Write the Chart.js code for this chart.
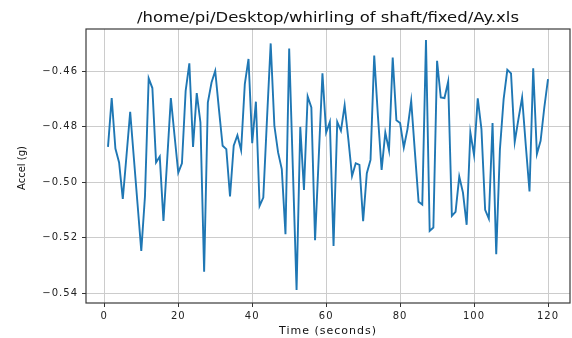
<!DOCTYPE html>
<html>
<head>
<meta charset="utf-8">
<script src="https://cdn.jsdelivr.net/npm/chart.js@4/dist/chart.umd.min.js"></script>
<style>
  html, body { margin: 0; padding: 0; background: #fff; }
  #wrap { width: 572px; height: 338px; }
</style>
</head>
<body>
<div id="wrap"><canvas id="chart" width="572" height="338"></canvas></div>
<script>
// Time axis (seconds) and Ay acceleration readings (g)
const times = [
  1, 2, 3, 4, 5, 6, 7, 8, 9, 10, 11, 12, 13, 14, 15, 16, 17, 18, 19, 20,
  21, 22, 23, 24, 25, 26, 27, 28, 29, 30, 31, 32, 33, 34, 35, 36, 37, 38, 39, 40,
  41, 42, 43, 44, 45, 46, 47, 48, 49, 50, 51, 52, 53, 54, 55, 56, 57, 58, 59, 60,
  61, 62, 63, 64, 65, 66, 67, 68, 69, 70, 71, 72, 73, 74, 75, 76, 77, 78, 79, 80,
  81, 82, 83, 84, 85, 86, 87, 88, 89, 90, 91, 92, 93, 94, 95, 96, 97, 98, 99, 100,
  101, 102, 103, 104, 105, 106, 107, 108, 109, 110, 111, 112, 113, 114, 115, 116, 117, 118, 119, 120
];
const accelY = [
  -0.4872, -0.4696, -0.4878, -0.4928, -0.5060, -0.4904, -0.4746, -0.4913, -0.5080, -0.5247,
  -0.5050, -0.4625, -0.4660, -0.4928, -0.4907, -0.5139, -0.4920, -0.4696, -0.4832, -0.4965,
  -0.4931, -0.4670, -0.4571, -0.4872, -0.4678, -0.4784, -0.5322, -0.4712, -0.4640, -0.4598,
  -0.4736, -0.4868, -0.4880, -0.5051, -0.4868, -0.4830, -0.4884, -0.4646, -0.4555, -0.4859,
  -0.4709, -0.5085, -0.5055, -0.4772, -0.4499, -0.4796, -0.4892, -0.4952, -0.5187, -0.4517,
  -0.4952, -0.5388, -0.4800, -0.5027, -0.4690, -0.4730, -0.5209, -0.4908, -0.4607, -0.4820,
  -0.4782, -0.5229, -0.4782, -0.4814, -0.4722, -0.4844, -0.4977, -0.4931, -0.4937, -0.5140,
  -0.4967, -0.4919, -0.4543, -0.4760, -0.4955, -0.4820, -0.4884, -0.4550, -0.4776, -0.4786,
  -0.4874, -0.4808, -0.4706, -0.4890, -0.5070, -0.5080, -0.4487, -0.5175, -0.5163, -0.4562,
  -0.4694, -0.4696, -0.4637, -0.5121, -0.5106, -0.4979, -0.5037, -0.5153, -0.4820, -0.4902,
  -0.4697, -0.4808, -0.5099, -0.5131, -0.4786, -0.5259, -0.4880, -0.4700, -0.4594, -0.4607,
  -0.4854, -0.4772, -0.4694, -0.4868, -0.5033, -0.4589, -0.4898, -0.4850, -0.4730, -0.4628
];
const xTicks = [0, 20, 40, 60, 80, 100, 120];
const yTicks = [-0.54, -0.52, -0.50, -0.48, -0.46];

const FONT = 'DejaVu Sans';
const TITLE = '/home/pi/Desktop/whirling of shaft/fixed/Ay.xls';
const Y_TITLE = 'Accel (g)';
const points = times.map((t, i) => ({ x: t, y: accelY[i] }));

// the reference text is a bit wide, so space the letters out a little
const spacing = {
  id: 'spacing',
  beforeDraw(chart) { chart.ctx.letterSpacing = '1px'; }
};

// close the plot box (top/right spines), title over the plot, y title by hand
const frame = {
  id: 'frame',
  afterDraw(chart) {
    const { ctx, chartArea: a } = chart;
    ctx.save();
    ctx.strokeStyle = '#3a3a3a';
    ctx.lineWidth = 1.2;
    ctx.strokeRect(a.left, a.top, a.right - a.left, a.bottom - a.top);

    // title: same height as 14px text, stretched to the width seen in the picture
    ctx.fillStyle = '#111';
    ctx.letterSpacing = '0px';
    ctx.font = '14px "' + FONT + '"';
    ctx.textAlign = 'center';
    ctx.textBaseline = 'alphabetic';
    const w = ctx.measureText(TITLE).width;
    ctx.save();
    ctx.translate((a.left + a.right) / 2, 22);
    ctx.scale(382 / w, 1);
    ctx.fillText(TITLE, 0, 0);
    ctx.restore();

    ctx.translate(22, (a.top + a.bottom) / 2 + 2);
    ctx.rotate(-Math.PI / 2);
    ctx.font = '10px "' + FONT + '"';
    ctx.textBaseline = 'middle';
    ctx.fillText(Y_TITLE, 0, 0);
    ctx.restore();
  }
};

new Chart(document.getElementById('chart'), {
  type: 'line',
  data: {
    datasets: [{
      data: points,
      borderColor: '#1f77b4',
      borderWidth: 1.9,
      pointRadius: 0,
      tension: 0,
      fill: false
    }]
  },
  options: {
    responsive: false,
    animation: false,
    layout: { padding: { left: 8, right: 2, top: 29, bottom: 0 } },
    plugins: {
      legend: { display: false },
      tooltip: { enabled: false },
      title: { display: false }
    },
    scales: {
      x: {
        type: 'linear',
        min: -4.95,
        max: 125.95,
        afterBuildTicks: s => { s.ticks = xTicks.map(v => ({ value: v })); },
        afterFit: s => { s.height = 35; },
        grid: { color: '#cccccc', lineWidth: 1, tickColor: '#333', tickLength: 4 },
        border: { display: false },
        ticks: {
          color: '#222',
          font: { family: FONT, size: 10 },
          padding: 3,
          maxRotation: 0
        },
        title: {
          display: true,
          text: 'Time (seconds)',
          color: '#111',
          font: { family: FONT, size: 11 },
          padding: { top: 0, bottom: 0 }
        }
      },
      y: {
        type: 'linear',
        min: -0.5435,
        max: -0.4447,
        afterBuildTicks: s => { s.ticks = yTicks.map(v => ({ value: v })); },
        afterFit: s => { s.width = 78; },
        grid: { color: '#cccccc', lineWidth: 1, tickColor: '#333', tickLength: 4 },
        border: { display: false },
        ticks: {
          color: '#222',
          font: { family: FONT, size: 10 },
          padding: 4,
          callback: v => '\u2212' + Math.abs(v).toFixed(2)
        }
      }
    }
  },
  plugins: [spacing, frame]
});
</script>
</body>
</html>
